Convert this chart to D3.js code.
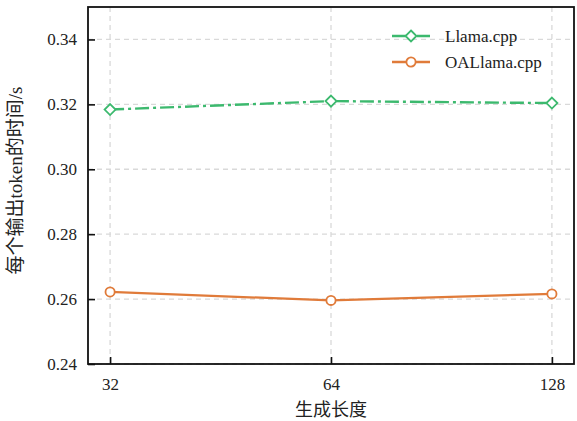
<!DOCTYPE html>
<html lang="zh">
<head>
<meta charset="UTF-8">
<title>每个输出token的时间</title>
<script src="https://d3js.org/d3.v7.min.js"></script>
<style>
    body { margin: 0; background: #fff; }
    svg text { font-family: "Liberation Serif", "Noto Sans CJK SC", serif; fill: #222; }
    svg .tick text { font-family: "Liberation Serif"; font-size: 17px; }
</style>
</head>
<body>
<svg id="chart" width="577" height="421"></svg>
<script>
    // data
    const genLengths = ["32", "64", "128"];
    const llamaCpp = [0.3184, 0.3210, 0.3204];
    const oaLlamaCpp = [0.2622, 0.2596, 0.2616];
    const yTicks = [0.24, 0.26, 0.28, 0.30, 0.32, 0.34];

    const margin = { top: 7, right: 3, bottom: 57, left: 88 },
        width = 577 - margin.left - margin.right,
        height = 421 - margin.top - margin.bottom;

    const svg = d3.select("#chart")
        .append("g")
        .attr("transform", `translate(${margin.left},${margin.top})`);

    const x = d3.scalePoint()
        .domain(genLengths)
        .range([0, width])
        .padding(0.1);

    const y = d3.scaleLinear()
        .domain([0.24, 0.35])
        .range([height, 0]);

    // grid lines
    svg.append("g")
        .selectAll("line")
        .data(yTicks)
        .join("line")
        .attr("x1", 0).attr("x2", width)
        .attr("y1", d => y(d)).attr("y2", d => y(d))
        .attr("stroke", "#d9d9d9")
        .attr("stroke-width", 1.3)
        .attr("stroke-dasharray", "5,4");

    svg.append("g")
        .selectAll("line")
        .data(genLengths)
        .join("line")
        .attr("x1", d => x(d)).attr("x2", d => x(d))
        .attr("y1", 0).attr("y2", height)
        .attr("stroke", "#d9d9d9")
        .attr("stroke-width", 1.3)
        .attr("stroke-dasharray", "5,4");

    // axes, ticks pointing inward
    const xAxis = svg.append("g")
        .attr("transform", `translate(0,${height})`)
        .call(d3.axisBottom(x).tickSize(-7).tickPadding(14));
    const yAxis = svg.append("g")
        .call(d3.axisLeft(y).tickValues(yTicks).tickFormat(d3.format(".2f")).tickSize(-7).tickPadding(11));

    [xAxis, yAxis].forEach(a => {
        a.attr("font-family", "Liberation Serif").attr("font-size", 17);
        a.select(".domain").remove();
        a.selectAll(".tick line").attr("stroke", "#111").attr("stroke-width", 1.6);
        a.selectAll(".tick text").attr("fill", "#222");
    });

    // frame
    svg.append("rect")
        .attr("width", width).attr("height", height)
        .attr("fill", "none")
        .attr("stroke", "#111")
        .attr("stroke-width", 1.8);

    const green = "#3cb96e", orange = "#e07b3a";
    const dashDot = "14,4,3,4";

    const line = d3.line()
        .x((d, i) => x(genLengths[i]))
        .y(d => y(d));

    // OALlama.cpp
    svg.append("path")
        .datum(oaLlamaCpp)
        .attr("d", line)
        .attr("fill", "none")
        .attr("stroke", orange)
        .attr("stroke-width", 2.2);
    svg.selectAll(".oa")
        .data(oaLlamaCpp)
        .join("circle")
        .attr("class", "oa")
        .attr("cx", (d, i) => x(genLengths[i]))
        .attr("cy", d => y(d))
        .attr("r", 4.6)
        .attr("fill", "#fff")
        .attr("stroke", orange)
        .attr("stroke-width", 1.8);

    // Llama.cpp
    const diamond = "M0,-5.5L5.5,0L0,5.5L-5.5,0Z";
    svg.append("path")
        .datum(llamaCpp)
        .attr("d", line)
        .attr("fill", "none")
        .attr("stroke", green)
        .attr("stroke-width", 2.4)
        .attr("stroke-dasharray", dashDot);
    svg.selectAll(".ll")
        .data(llamaCpp)
        .join("path")
        .attr("class", "ll")
        .attr("d", diamond)
        .attr("transform", (d, i) => `translate(${x(genLengths[i])},${y(d)})`)
        .attr("fill", "#fff")
        .attr("stroke", green)
        .attr("stroke-width", 1.8);

    // legend
    const legendItems = [
        { name: "Llama.cpp", color: green, marker: "diamond", dash: dashDot },
        { name: "OALlama.cpp", color: orange, marker: "circle", dash: null }
    ];
    const legend = svg.append("g")
        .attr("transform", `translate(${392 - margin.left},${36 - margin.top})`);
    legendItems.forEach((item, i) => {
        const g = legend.append("g").attr("transform", `translate(0,${i * 26})`);
        g.append("line")
            .attr("x1", 0).attr("x2", 38)
            .attr("stroke", item.color)
            .attr("stroke-width", 2.4)
            .attr("stroke-dasharray", item.dash);
        if (item.marker === "diamond") {
            g.append("path")
                .attr("d", diamond)
                .attr("transform", "translate(19,0)")
                .attr("fill", "#fff")
                .attr("stroke", item.color)
                .attr("stroke-width", 1.8);
        } else {
            g.append("circle")
                .attr("cx", 19).attr("r", 4.6)
                .attr("fill", "#fff")
                .attr("stroke", item.color)
                .attr("stroke-width", 1.8);
        }
        g.append("text")
            .attr("x", 53).attr("dy", "0.35em")
            .style("font-size", "17px")
            .text(item.name);
    });

    // axis titles
    svg.append("text")
        .attr("x", width / 2)
        .attr("y", height + 52)
        .attr("text-anchor", "middle")
        .style("font-size", "18px")
        .text("生成长度");

    svg.append("text")
        .attr("transform", `translate(${-66},${height / 2 - 5}) rotate(-90)`)
        .attr("text-anchor", "middle")
        .style("font-size", "19px")
        .text("每个输出token的时间/s");
</script>
</body>
</html>
